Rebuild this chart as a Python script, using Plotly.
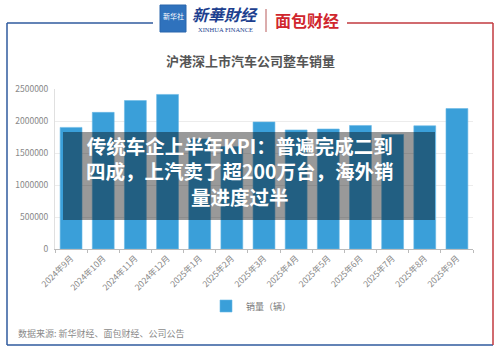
import plotly.graph_objects as go

months = ["2024年9月", "2024年10月", "2024年11月", "2024年12月", "2025年1月", "2025年2月",
          "2025年3月", "2025年4月", "2025年5月", "2025年6月", "2025年7月", "2025年8月", "2025年9月"]
sales = [1900000, 2135000, 2320000, 2415000, 1720000, 1600000,
         1985000, 1860000, 1875000, 1930000, 1790000, 1925000, 2195000]
y_ticks = [0, 500000, 1000000, 1500000, 2000000, 2500000]
series_name = "销量（辆）"
chart_title = "沪港深上市汽车公司整车销量"
source_text = "数据来源: 新华财经、面包财经、公司公告"
banner_lines = ["传统车企上半年KPI：普遍完成二到", "四成，上汽卖了超200万台，海外销", "量进度过半"]

W, H = 500, 353
L, R, T, B = 55, 473, 89, 249

def X(px):
    return (px - L) / (R - L)

def Y(py):
    return (B - py) / (B - T)

FONT = "Noto Sans CJK SC"

fig = go.Figure()
fig.add_trace(go.Bar(
    x=months, y=sales, name=series_name,
    marker=dict(color="#3a9fd9", line=dict(color="#6ab8e6", width=0.6)),
    showlegend=True,
))

shapes = []
blue = "#2f5a9e"
red = "#c23a3f"
shapes += [
    dict(type="line", xref="paper", yref="paper", x0=X(7), x1=X(153), y0=Y(23), y1=Y(23), line=dict(color=blue, width=1.5)),
    dict(type="line", xref="paper", yref="paper", x0=X(7), x1=X(7), y0=Y(23), y1=Y(345), line=dict(color=blue, width=1.5)),
    dict(type="line", xref="paper", yref="paper", x0=X(7), x1=X(493), y0=Y(345), y1=Y(345), line=dict(color=blue, width=1.5)),
    dict(type="line", xref="paper", yref="paper", x0=X(347), x1=X(493), y0=Y(23), y1=Y(23), line=dict(color=red, width=1.5)),
    dict(type="line", xref="paper", yref="paper", x0=X(493), x1=X(493), y0=Y(23), y1=Y(345), line=dict(color=red, width=1.5)),
    dict(type="rect", xref="paper", yref="paper", x0=X(160), x1=X(186), y0=Y(32), y1=Y(5),
         fillcolor="#2f72bd", line=dict(color="#2a66ad", width=1)),
    dict(type="line", xref="paper", yref="paper", x0=X(266), x1=X(266), y0=Y(9), y1=Y(32), line=dict(color="#b85a5a", width=1)),
    dict(type="rect", xref="paper", yref="paper", x0=X(63), x1=X(435), y0=Y(220), y1=Y(132),
         fillcolor="rgba(0,0,0,0.4)", line=dict(width=0), layer="above"),
]

ann = []
ann.append(dict(text="新华社", x=X(173), y=Y(16), xref="paper", yref="paper", showarrow=False,
                font=dict(family=FONT, size=7, color="white"), xanchor="center", yanchor="middle"))
ann.append(dict(text="<b><i>新華財经</i></b>", x=X(225), y=Y(14), xref="paper", yref="paper", showarrow=False,
                font=dict(family=FONT, size=16, color="#1d3f8f"), xanchor="center", yanchor="middle"))
ann.append(dict(text="XINHUA FINANCE", x=X(225), y=Y(29), xref="paper", yref="paper", showarrow=False,
                font=dict(family="Liberation Serif", size=6.5, color="#1d3f8f"), xanchor="center", yanchor="middle"))
ann.append(dict(text="<b>面包财经</b>", x=X(307), y=Y(20), xref="paper", yref="paper", showarrow=False,
                font=dict(family=FONT, size=16, color="#d0262d"), xanchor="center", yanchor="middle"))
ann.append(dict(text="<b>" + chart_title + "</b>", x=X(250), y=Y(60), xref="paper", yref="paper", showarrow=False,
                font=dict(family=FONT, size=13, color="#555555"), xanchor="center", yanchor="middle"))
ann.append(dict(text=source_text, x=X(16), y=Y(333), xref="paper", yref="paper", showarrow=False,
                font=dict(family=FONT, size=9, color="#8a8a8a"), xanchor="left", yanchor="middle"))
ann.append(dict(text="<br>".join("<b>" + s + "</b>" for s in banner_lines), x=X(240), y=Y(171),
                xref="paper", yref="paper", showarrow=False, align="center",
                font=dict(family=FONT, size=19.5, color="white"), xanchor="center", yanchor="middle"))

fig.update_layout(
    width=W, height=H,
    margin=dict(l=L, r=W - R, t=T, b=H - B),
    paper_bgcolor="white", plot_bgcolor="white",
    bargap=0.32,
    font=dict(family=FONT, size=9, color="#8a8a8a"),
    shapes=shapes, annotations=ann,
    legend=dict(orientation="h", x=X(206), y=Y(306), xanchor="left", yanchor="middle",
                font=dict(family=FONT, size=9, color="#777777"), itemwidth=30),
    xaxis=dict(type="category", tickangle=-45, showline=True, linecolor="#bbbbbb", linewidth=1,
               ticks="outside", tickson="boundaries", ticklen=3, tickcolor="#bbbbbb",
               tickfont=dict(family=FONT, size=8.5, color="#888888"), showgrid=False),
    yaxis=dict(range=[0, 2500000], tickvals=y_ticks, ticktext=[str(v) for v in y_ticks],
               showgrid=True, gridcolor="#ececec", gridwidth=1, zeroline=False,
               showline=True, linecolor="#e0e0e0", ticks="", ticklabelstandoff=4,
               tickfont=dict(family=FONT, size=8.5, color="#888888")),
)

fig.write_html("out.html")
